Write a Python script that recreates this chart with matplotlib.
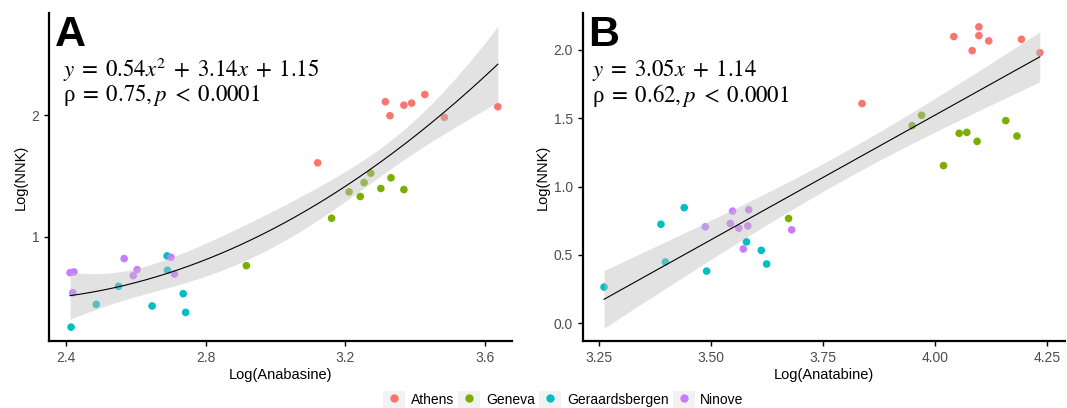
import numpy as np
import matplotlib
matplotlib.use("Agg")
import matplotlib.pyplot as plt
from matplotlib.lines import Line2D
from matplotlib.patches import Rectangle
from matplotlib.legend_handler import HandlerTuple

plt.rcParams['font.family'] = ['Liberation Sans', 'DejaVu Sans']
plt.rcParams['mathtext.fontset'] = 'stix'

cities = ['Athens', 'Geneva', 'Geraardsbergen', 'Ninove']
colors = ['#F8766D', '#7CAE00', '#00BFC4', '#C77CFF']

# panel A: Log(Anabasine) vs Log(NNK)
a_x = {
    'Athens': [3.121, 3.315, 3.328, 3.368, 3.390, 3.428, 3.484, 3.637],
    'Geneva': [2.917, 3.161, 3.211, 3.243, 3.254, 3.273, 3.302, 3.331, 3.368],
    'Geraardsbergen': [2.415, 2.487, 2.551, 2.647, 2.690, 2.691, 2.736, 2.743],
    'Ninove': [2.412, 2.423, 2.420, 2.567, 2.593, 2.604, 2.701, 2.711],
}
a_y = {
    'Athens': [1.607, 2.110, 1.995, 2.082, 2.099, 2.170, 1.981, 2.069],
    'Geneva': [0.761, 1.151, 1.368, 1.330, 1.445, 1.522, 1.396, 1.484, 1.387],
    'Geraardsbergen': [0.255, 0.442, 0.591, 0.429, 0.841, 0.723, 0.530, 0.376],
    'Ninove': [0.703, 0.709, 0.538, 0.819, 0.679, 0.728, 0.830, 0.692],
}

# panel B: Log(Anatabine) vs Log(NNK)
b_x = {
    'Athens': [3.837, 4.042, 4.083, 4.098, 4.098, 4.120, 4.193, 4.234],
    'Geneva': [3.673, 3.949, 3.970, 4.019, 4.054, 4.071, 4.094, 4.158, 4.183],
    'Geraardsbergen': [3.261, 3.388, 3.398, 3.440, 3.490, 3.579, 3.612, 3.624],
    'Ninove': [3.487, 3.543, 3.548, 3.562, 3.572, 3.582, 3.584, 3.680],
}
b_y = {
    'Athens': [1.608, 2.098, 1.995, 2.169, 2.105, 2.066, 2.078, 1.980],
    'Geneva': [0.767, 1.446, 1.522, 1.154, 1.390, 1.397, 1.331, 1.483, 1.370],
    'Geraardsbergen': [0.265, 0.725, 0.449, 0.846, 0.382, 0.596, 0.534, 0.434],
    'Ninove': [0.706, 0.730, 0.821, 0.696, 0.544, 0.713, 0.831, 0.684],
}

eq_a = [r'$y\;=\;0.54x^2\;+\;3.14x\;+\;1.15$', 'ρ' + r'$\;=\;0.75,p\;<\;0.0001$']
eq_b = [r'$y\;=\;3.05x\;+\;1.14$', 'ρ' + r'$\;=\;0.62,p\;<\;0.0001$']


def smooth(x, y, deg, t=2.04):
    # lm fit with 95% confidence band, like geom_smooth
    x = np.asarray(x); y = np.asarray(y)
    X = np.vander(x, deg + 1)
    beta, *_ = np.linalg.lstsq(X, y, rcond=None)
    res = y - X @ beta
    s2 = res @ res / (len(x) - deg - 1)
    cov = np.linalg.inv(X.T @ X) * s2
    xs = np.linspace(x.min(), x.max(), 200)
    Xs = np.vander(xs, deg + 1)
    fit = Xs @ beta
    se = np.sqrt(np.einsum('ij,jk,ik->i', Xs, cov, Xs))
    return xs, fit, fit - t * se, fit + t * se


def panel(ax, dx, dy, deg, eq, letter, xlabel, tx):
    allx, ally = [], []
    for c, col in zip(cities, colors):
        ax.scatter(dx[c], dy[c], s=30, color=col, edgecolors='none', zorder=2)
        allx += dx[c]; ally += dy[c]
    xs, fit, lo, hi = smooth(allx, ally, deg)
    ax.fill_between(xs, lo, hi, color='#BFBFBF', alpha=0.45, linewidth=0, zorder=3)
    ax.plot(xs, fit, color='black', lw=0.8, zorder=4)
    for s in ['top', 'right']:
        ax.spines[s].set_visible(False)
    for s in ['left', 'bottom']:
        ax.spines[s].set_linewidth(1.6)
    ax.tick_params(labelsize=10, colors='black', labelcolor='#4D4D4D',
                   length=3.5, width=1)
    ax.set_xlabel(xlabel, fontsize=10.5, labelpad=2)
    ax.set_ylabel('Log(NNK)', fontsize=10.5, labelpad=3)
    ax.text(0.012, 0.995, letter, transform=ax.transAxes, fontsize=31,
            fontweight='bold', va='top', ha='left')
    ax.text(tx, 0.826, eq[0], transform=ax.transAxes, fontsize=16.5,
            va='center', family='Liberation Serif')
    ax.text(tx, 0.75, eq[1], transform=ax.transAxes, fontsize=16.5,
            va='center', family='Liberation Serif')


fig = plt.figure(figsize=(10.67, 4.08), dpi=100)
ax1 = fig.add_axes([0.046, 0.164, 0.434, 0.804])
ax2 = fig.add_axes([0.546, 0.164, 0.452, 0.804])

panel(ax1, a_x, a_y, 2, eq_a, 'A', 'Log(Anabasine)', 0.03)
ax1.set_xlim(2.352, 3.678)
ax1.set_ylim(0.14, 2.84)
ax1.set_xticks([2.4, 2.8, 3.2, 3.6])
ax1.set_yticks([1, 2])

panel(ax2, b_x, b_y, 1, eq_b, 'B', 'Log(Anatabine)', 0.02)
ax2.set_xlim(3.213, 4.29)
ax2.set_ylim(-0.13, 2.27)
ax2.set_xticks([3.25, 3.5, 3.75, 4.0, 4.25])
ax2.set_xticklabels(['3.25', '3.50', '3.75', '4.00', '4.25'])
ax2.set_yticks([0, 0.5, 1.0, 1.5, 2.0])
ax2.set_yticklabels(['0.0', '0.5', '1.0', '1.5', '2.0'])

handles = []
for col in colors:
    bg = Rectangle((0, 0), 1, 1, facecolor='#F2F2F2', edgecolor='none')
    dot = Line2D([], [], marker='o', color=col, linestyle='none', markersize=5)
    handles.append((bg, dot))
fig.legend(handles, cities, loc='center', bbox_to_anchor=(0.528, 0.02),
           ncol=4, frameon=False, fontsize=10,
           handler_map={tuple: HandlerTuple(ndivide=1)},
           handlelength=1.6, handleheight=1.6, handletextpad=0.4,
           columnspacing=0.3, borderpad=0.1)

fig.savefig('out.png', dpi=100)
